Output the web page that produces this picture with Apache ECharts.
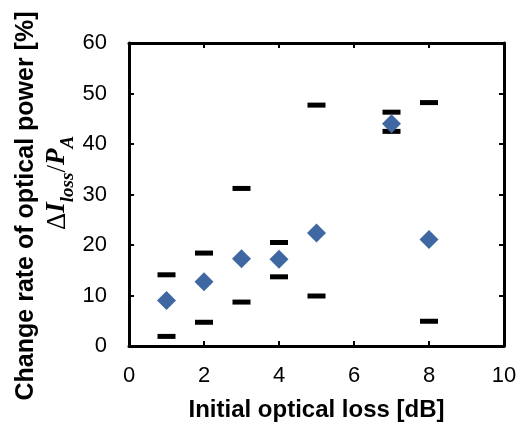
<!DOCTYPE html>
<html><head><meta charset="utf-8">
<script src="https://cdn.jsdelivr.net/npm/echarts@6/dist/echarts.min.js"></script>
<style>html,body{margin:0;padding:0;background:#fff}#c{width:526px;height:427px}</style>
</head><body><div id="c"></div>
<script>
var xValues = [1, 2, 3, 4, 5, 7, 8];
var meanValues = [9.0, 12.7, 17.3, 17.2, 22.4, 44.0, 21.1];
var upperValues = [14.1, 18.4, 31.2, 20.5, 47.7, 46.3, 48.2];
var lowerValues = [1.9, 4.7, 8.7, 13.7, 9.9, 42.5, 4.9];
var xTicks = [0, 2, 4, 6, 8, 10];
var yTicks = [0, 10, 20, 30, 40, 50, 60];

function pairs(ys){ return xValues.map(function(x,i){ return [x, ys[i]]; }); }

var chart = echarts.init(document.getElementById('c'), null, {renderer:'canvas'});
var font = 'Liberation Sans, Arial, sans-serif';
var serif = 'Liberation Serif, DejaVu Serif, serif';
var lineStyle = {color:'#000', width:3};
var tickStyle = {color:'#000', width:2};
chart.setOption({
  animation:false,
  grid:{left:129, right:22, top:43, bottom:79, containLabel:false},
  xAxis:[{
    type:'value', min:xTicks[0], max:xTicks[xTicks.length-1], interval:2,
    axisLine:{show:true, onZero:false, lineStyle:lineStyle},
    axisTick:{show:true, inside:true, length:5, lineStyle:tickStyle},
    splitLine:{show:false},
    axisLabel:{color:'#000', fontSize:22, fontFamily:font, margin:19},
    name:'Initial optical loss [dB]', nameLocation:'middle', nameGap:64,
    nameTextStyle:{color:'#000', fontSize:24, fontWeight:'bold', fontFamily:font, verticalAlign:'middle'}
  },{
    type:'value', position:'top', min:0, max:10, interval:2,
    axisLine:{show:true, onZero:false, lineStyle:lineStyle},
    axisTick:{show:true, inside:true, length:5, lineStyle:tickStyle},
    axisLabel:{show:false}, splitLine:{show:false}
  }],
  yAxis:[{
    type:'value', min:yTicks[0], max:yTicks[yTicks.length-1], interval:10,
    axisLine:{show:true, onZero:false, lineStyle:lineStyle},
    axisTick:{show:true, inside:true, length:5, lineStyle:tickStyle},
    splitLine:{show:false},
    axisLabel:{color:'#000', fontSize:22, fontFamily:font, margin:22}
  },{
    type:'value', position:'right', min:0, max:60, interval:10,
    axisLine:{show:true, onZero:false, lineStyle:lineStyle},
    axisTick:{show:true, inside:true, length:5, lineStyle:tickStyle},
    axisLabel:{show:false}, splitLine:{show:false}
  }],
  graphic:[{
    type:'text', x:26, y:206, rotation:Math.PI/2,
    style:{text:'Change rate of optical power [%]', fill:'#000', fontSize:25, fontWeight:'bold', fontFamily:font, align:'center', verticalAlign:'middle'}
  },{
    type:'text', x:61, y:183, rotation:Math.PI/2,
    style:{
      text:'{d|Δ}{n|I}{s|loss}{d|/}{n|P}{a|A}',
      align:'center', verticalAlign:'middle',
      rich:{
        d:{fill:'#000', fontSize:27, fontFamily:serif, verticalAlign:'top', lineHeight:30},
        n:{fill:'#000', fontSize:27, fontStyle:'italic', fontWeight:'bold', fontFamily:serif, verticalAlign:'top', lineHeight:30},
        s:{fill:'#000', fontSize:19, fontStyle:'italic', fontWeight:'bold', fontFamily:serif, verticalAlign:'bottom', lineHeight:34},
        a:{fill:'#000', fontSize:19, fontStyle:'italic', fontWeight:'bold', fontFamily:serif, verticalAlign:'bottom', lineHeight:34}
      }
    }
  }],
  series:[{
    type:'scatter', data:pairs(upperValues), symbol:'rect', symbolSize:[18,5],
    itemStyle:{color:'#000', opacity:1}, z:2
  },{
    type:'scatter', data:pairs(lowerValues), symbol:'rect', symbolSize:[18,5],
    itemStyle:{color:'#000', opacity:1}, z:2
  },{
    type:'scatter', data:pairs(meanValues), symbol:'diamond', symbolSize:[19,19],
    itemStyle:{color:'#3F68A3', opacity:1}, z:3
  }]
});
</script></body></html>
